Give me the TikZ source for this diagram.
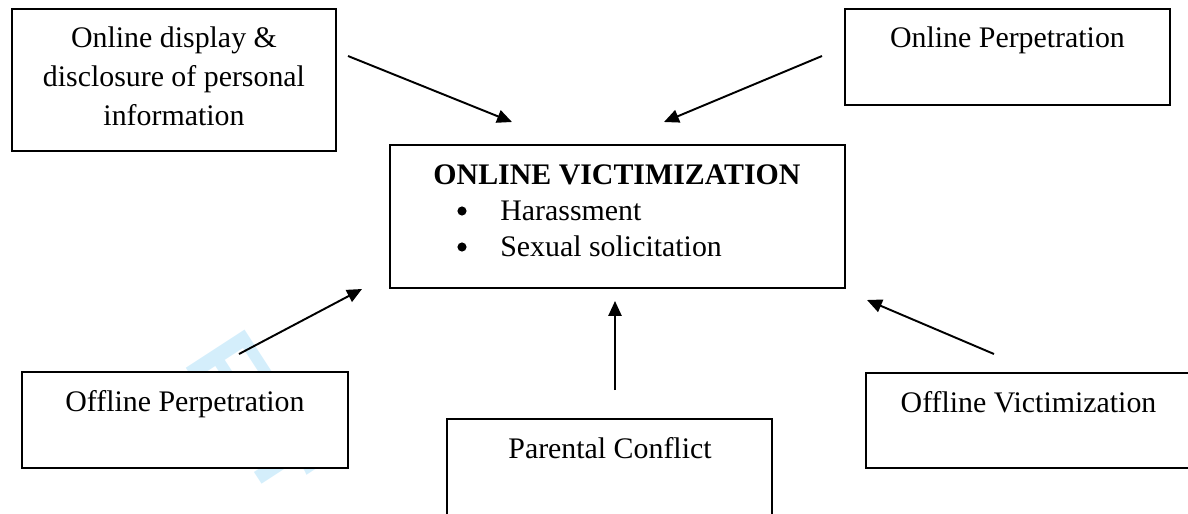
\documentclass[tikz,border=0pt]{standalone}
\usepackage{fontspec}
\setmainfont{Liberation Serif}
\newfontfamily\wmfont{Liberation Sans}
\usetikzlibrary{arrows.meta}
\definecolor{wmblue}{RGB}{212,238,251}

\begin{document}
\begin{tikzpicture}[x=0.02cm,y=-0.02cm,
  box/.style={draw,fill=white,line width=1pt,inner sep=0pt},
  lbl/.style={font=\fontsize{17}{22}\selectfont,inner sep=0pt,anchor=base},
  dot/.style={circle,fill,inner sep=0pt,minimum size=5.2pt},
  arr/.style={line width=1.1pt,-{Triangle[length=8.5pt,width=7.5pt]}}]
\useasboundingbox (0,0) rectangle (1188,514);
\node[font=\wmfont\bfseries\fontsize{58}{58}\selectfont,text=wmblue,anchor=base west,rotate=-57,inner sep=0pt] (wm) at (182,362) {For};
% boxes
\node[box,minimum width=6.48cm,minimum height=2.84cm] (disp) at (174,80) {};
\node[box,minimum width=6.5cm,minimum height=1.92cm] (onperp) at (1007.5,57) {};
\node[box,minimum width=9.1cm,minimum height=2.86cm] (victim) at (617.5,216.5) {};
\node[box,minimum width=6.52cm,minimum height=1.92cm] (offperp) at (185,420) {};
\node[box,minimum width=6.5cm,minimum height=1.92cm] (parent) at (609.5,467) {};
\node[box,minimum width=6.5cm,minimum height=1.9cm] (offvict) at (1028.5,420.5) {};
% texts
\node[lbl,align=center] (disptxt) at (174,125) {Online display \&\\disclosure of personal\\information};
\node[lbl] (onperptxt) at (1007.5,47) {Online Perpetration};
\node[lbl,font=\fontsize{17}{22}\selectfont\bfseries] (victimtxt) at (617,184) {ONLINE VICTIMIZATION};
\node[dot] (dotA) at (462,211) {};
\node[dot] (dotB) at (462,247) {};
\node[lbl,anchor=base west] (harass) at (500,220) {Harassment};
\node[lbl,anchor=base west] (solicit) at (500,256) {Sexual solicitation};
\node[lbl] (offperptxt) at (185,411) {Offline Perpetration};
\node[lbl] (parenttxt) at (610,458) {Parental Conflict};
\node[lbl] (offvicttxt) at (1028.5,412) {Offline Victimization};
% arrows
\coordinate (dispfrom) at (348,56);   \coordinate (dispto) at (512,122);
\coordinate (onfrom) at (822,56);     \coordinate (onto) at (664,122);
\coordinate (offpfrom) at (239,354);  \coordinate (offpto) at (362,289);
\coordinate (parfrom) at (615,390);   \coordinate (parto) at (615,301);
\coordinate (offvfrom) at (994,354);  \coordinate (offvto) at (867,300);
\draw[arr] (dispfrom) -- (dispto);
\draw[arr] (onfrom) -- (onto);
\draw[arr] (offpfrom) -- (offpto);
\draw[arr] (parfrom) -- (parto);
\draw[arr] (offvfrom) -- (offvto);
\end{tikzpicture}
\end{document}
